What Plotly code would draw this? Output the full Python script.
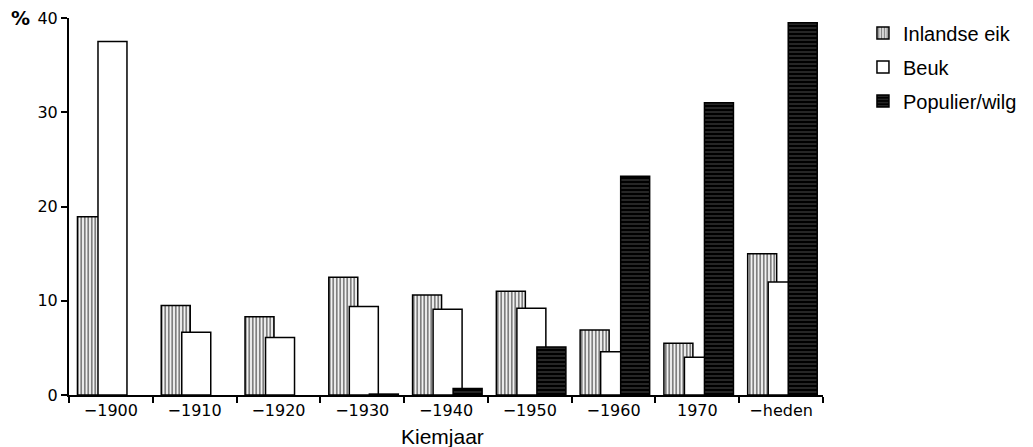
import plotly.graph_objects as go

categories = ["\u22121900", "\u22121910", "\u22121920", "\u22121930", "\u22121940",
              "\u22121950", "\u22121960", "1970", "\u2212heden"]
inlandse_eik = [18.9, 9.5, 8.3, 12.5, 10.6, 11.0, 6.9, 5.5, 15.0]
beuk = [37.5, 6.65, 6.1, 9.4, 9.1, 9.2, 4.6, 4.0, 12.0]
populier_wilg = [None, None, None, 0.1, 0.7, 5.1, 23.2, 31.0, 39.5]
y_ticks = [0, 10, 20, 30, 40]

W = 0.346
fig = go.Figure()
fig.add_trace(go.Bar(
    x=categories, y=inlandse_eik, name="Inlandse eik", legendgroup="a",
    width=W, offset=-0.399,
    marker=dict(color="white", line=dict(color="black", width=1.5),
                pattern=dict(shape="|", fgcolor="black", bgcolor="white", size=3.5, solidity=0.55)),
))
fig.add_trace(go.Bar(
    x=categories, y=beuk, name="Beuk", legendgroup="b",
    width=W, offset=-0.154,
    marker=dict(color="white", line=dict(color="black", width=1.5)),
))
fig.add_trace(go.Bar(
    x=categories, y=populier_wilg, name="Populier/wilg", legendgroup="c",
    width=W, offset=0.085,
    marker=dict(color="black", line=dict(color="black", width=1.5),
                pattern=dict(shape="-", fgcolor="white", bgcolor="black", size=4, solidity=0.15)),
))

fig.update_layout(
    width=1033, height=447,
    margin=dict(l=69, r=210, t=18, b=52, autoexpand=False),
    paper_bgcolor="white", plot_bgcolor="white",
    barmode="overlay",
    showlegend=True,
    legend=dict(x=1.053, y=1.012, xanchor="left", yanchor="top",
                font=dict(family="Liberation Sans", size=20, color="black"),
                tracegroupgap=5, bgcolor="rgba(0,0,0,0)"),
    font=dict(family="DejaVu Sans", color="black"),
)
fig.update_xaxes(
    type="category", tickson="boundaries", ticks="outside", ticklen=6,
    tickwidth=1.5, tickcolor="black", automargin=False,
    showline=True, linecolor="black", linewidth=2, showgrid=False,
    tickfont=dict(family="DejaVu Sans", size=16, color="black"),
    range=[-0.5, 8.5],
)
fig.update_yaxes(
    range=[0, 40], tickvals=y_ticks, ticks="outside", ticklen=6, tickwidth=1.5,
    tickcolor="black", showline=True, linecolor="black", linewidth=2,
    showgrid=False, zeroline=False, automargin=False,
    tickfont=dict(family="DejaVu Sans", size=16, color="black"),
)
fig.add_annotation(text="<b>%</b>", xref="paper", yref="paper", x=-0.049, y=1.0,
                   xanchor="right", yanchor="middle", showarrow=False,
                   font=dict(family="DejaVu Sans", size=19, color="black"))
fig.add_annotation(text="Kiemjaar", xref="paper", yref="paper", x=0.495, y=-0.1114,
                   xanchor="center", yanchor="middle", showarrow=False,
                   font=dict(family="Liberation Sans", size=21, color="black"))

fig.write_html("out.html", config={"displayModeBar": False},
               post_script="document.body.style.margin='0px';")
